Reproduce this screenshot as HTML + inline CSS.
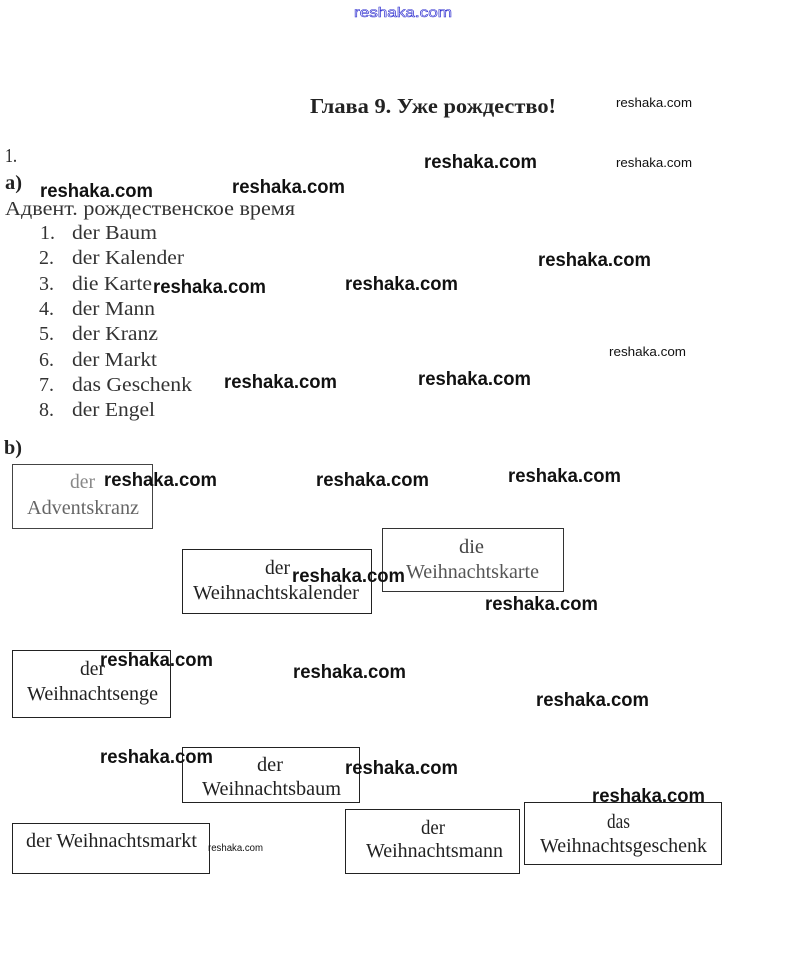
<!DOCTYPE html>
<html><head><meta charset="utf-8"><style>
html,body{margin:0;padding:0;background:#fff;}
svg{display:block;}
.s{font-family:"Liberation Serif","Noto Serif CJK SC",serif;font-size:20px;fill:#222;}
.w{font-family:"Liberation Sans","DejaVu Sans",sans-serif;font-size:19px;font-weight:bold;fill:#111;}
.ws{font-family:"Liberation Sans","DejaVu Sans",sans-serif;font-size:13px;fill:#111;}
.b{fill:none;stroke:#222;stroke-width:1;}
</style></head><body>
<svg width="804" height="974" viewBox="0 0 804 974" xmlns="http://www.w3.org/2000/svg">
<rect width="804" height="974" fill="#fff"/>
<text x="354" y="17" font-family="Liberation Sans, sans-serif" font-size="14" fill="#fff" stroke="#3030d0" stroke-width="0.6" textLength="98" lengthAdjust="spacingAndGlyphs">reshaka.com</text>

<text x="310" y="113" class="s" style="font-weight:bold;font-size:21px" textLength="246" lengthAdjust="spacingAndGlyphs">Глава 9. Уже рождество!</text>

<text x="5" y="162" class="s" fill="#333" textLength="12" lengthAdjust="spacingAndGlyphs">1.</text>
<text x="5" y="189" class="s" style="font-weight:bold" textLength="17" lengthAdjust="spacingAndGlyphs">а)</text>
<text x="5" y="215" class="s" style="fill:#333" textLength="290" lengthAdjust="spacingAndGlyphs">Адвент. рождественское время</text>

<g class="s" style="fill:#333">
<text x="40" y="239">1.</text><text x="72" y="239" textLength="85" lengthAdjust="spacingAndGlyphs">der Baum</text>
<text x="39" y="264">2.</text><text x="72" y="264" textLength="112" lengthAdjust="spacingAndGlyphs">der Kalender</text>
<text x="39" y="290">3.</text><text x="72" y="290" textLength="80" lengthAdjust="spacingAndGlyphs">die Karte</text>
<text x="39" y="315">4.</text><text x="72" y="315" textLength="83" lengthAdjust="spacingAndGlyphs">der Mann</text>
<text x="39" y="340">5.</text><text x="72" y="340" textLength="86" lengthAdjust="spacingAndGlyphs">der Kranz</text>
<text x="39" y="366">6.</text><text x="72" y="366" textLength="85" lengthAdjust="spacingAndGlyphs">der Markt</text>
<text x="39" y="391">7.</text><text x="72" y="391" textLength="120" lengthAdjust="spacingAndGlyphs">das Geschenk</text>
<text x="39" y="416">8.</text><text x="72" y="416" textLength="83" lengthAdjust="spacingAndGlyphs">der Engel</text>
</g>

<text x="4" y="454" class="s" style="font-weight:bold" textLength="18" lengthAdjust="spacingAndGlyphs">b)</text>

<!-- boxes -->
<rect class="b" x="12.5" y="464.5" width="140" height="64" style="stroke:#444"/>
<rect class="b" x="182.5" y="549.5" width="189" height="64"/>
<rect class="b" x="382.5" y="528.5" width="181" height="63" style="stroke:#333"/>
<rect class="b" x="12.5" y="650.5" width="158" height="67"/>
<rect class="b" x="182.5" y="747.5" width="177" height="55"/>
<rect class="b" x="12.5" y="823.5" width="197" height="50"/>
<rect class="b" x="345.5" y="809.5" width="174" height="64"/>
<rect class="b" x="524.5" y="802.5" width="197" height="62"/>

<g class="s">
<text x="70" y="488" style="fill:#888" textLength="25" lengthAdjust="spacingAndGlyphs">der</text>
<text x="27" y="514" style="fill:#666" textLength="112" lengthAdjust="spacingAndGlyphs">Adventskranz</text>
<text x="265" y="574" textLength="25" lengthAdjust="spacingAndGlyphs">der</text>
<text x="193" y="599" textLength="166" lengthAdjust="spacingAndGlyphs">Weihnachtskalender</text>
<text x="459" y="553" style="fill:#444" textLength="25" lengthAdjust="spacingAndGlyphs">die</text>
<text x="406" y="578" style="fill:#555" textLength="133" lengthAdjust="spacingAndGlyphs">Weihnachtskarte</text>
<text x="80" y="675" textLength="25" lengthAdjust="spacingAndGlyphs">der</text>
<text x="27" y="700" textLength="131" lengthAdjust="spacingAndGlyphs">Weihnachtsenge</text>
<text x="257" y="771" textLength="26" lengthAdjust="spacingAndGlyphs">der</text>
<text x="202" y="795" textLength="139" lengthAdjust="spacingAndGlyphs">Weihnachtsbaum</text>
<text x="26" y="847" textLength="171" lengthAdjust="spacingAndGlyphs">der Weihnachtsmarkt</text>
<text x="421" y="834" textLength="24" lengthAdjust="spacingAndGlyphs">der</text>
<text x="366" y="857" textLength="137" lengthAdjust="spacingAndGlyphs">Weihnachtsmann</text>
<text x="607" y="828" textLength="23" lengthAdjust="spacingAndGlyphs">das</text>
<text x="540" y="852" textLength="167" lengthAdjust="spacingAndGlyphs">Weihnachtsgeschenk</text>
</g>

<!-- watermarks -->
<g class="w">
<text x="424" y="168" textLength="113" lengthAdjust="spacingAndGlyphs">reshaka.com</text>
<text x="40" y="197" textLength="113" lengthAdjust="spacingAndGlyphs">reshaka.com</text>
<text x="232" y="193" textLength="113" lengthAdjust="spacingAndGlyphs">reshaka.com</text>
<text x="538" y="266" textLength="113" lengthAdjust="spacingAndGlyphs">reshaka.com</text>
<text x="153" y="293" textLength="113" lengthAdjust="spacingAndGlyphs">reshaka.com</text>
<text x="345" y="290" textLength="113" lengthAdjust="spacingAndGlyphs">reshaka.com</text>
<text x="224" y="388" textLength="113" lengthAdjust="spacingAndGlyphs">reshaka.com</text>
<text x="418" y="385" textLength="113" lengthAdjust="spacingAndGlyphs">reshaka.com</text>
<text x="104" y="486" textLength="113" lengthAdjust="spacingAndGlyphs">reshaka.com</text>
<text x="316" y="486" textLength="113" lengthAdjust="spacingAndGlyphs">reshaka.com</text>
<text x="508" y="482" textLength="113" lengthAdjust="spacingAndGlyphs">reshaka.com</text>
<text x="292" y="582" textLength="113" lengthAdjust="spacingAndGlyphs">reshaka.com</text>
<text x="485" y="610" textLength="113" lengthAdjust="spacingAndGlyphs">reshaka.com</text>
<text x="100" y="666" textLength="113" lengthAdjust="spacingAndGlyphs">reshaka.com</text>
<text x="293" y="678" textLength="113" lengthAdjust="spacingAndGlyphs">reshaka.com</text>
<text x="536" y="706" textLength="113" lengthAdjust="spacingAndGlyphs">reshaka.com</text>
<text x="100" y="763" textLength="113" lengthAdjust="spacingAndGlyphs">reshaka.com</text>
<text x="345" y="774" textLength="113" lengthAdjust="spacingAndGlyphs">reshaka.com</text>
<text x="592" y="802" textLength="113" lengthAdjust="spacingAndGlyphs">reshaka.com</text>
</g>
<g class="ws">
<text x="616" y="107" textLength="76" lengthAdjust="spacingAndGlyphs">reshaka.com</text>
<text x="616" y="167" textLength="76" lengthAdjust="spacingAndGlyphs">reshaka.com</text>
<text x="609" y="356" textLength="77" lengthAdjust="spacingAndGlyphs">reshaka.com</text>
<text x="208" y="851" style="font-size:10px" textLength="55" lengthAdjust="spacingAndGlyphs">reshaka.com</text>
</g>
</svg>
</body></html>
